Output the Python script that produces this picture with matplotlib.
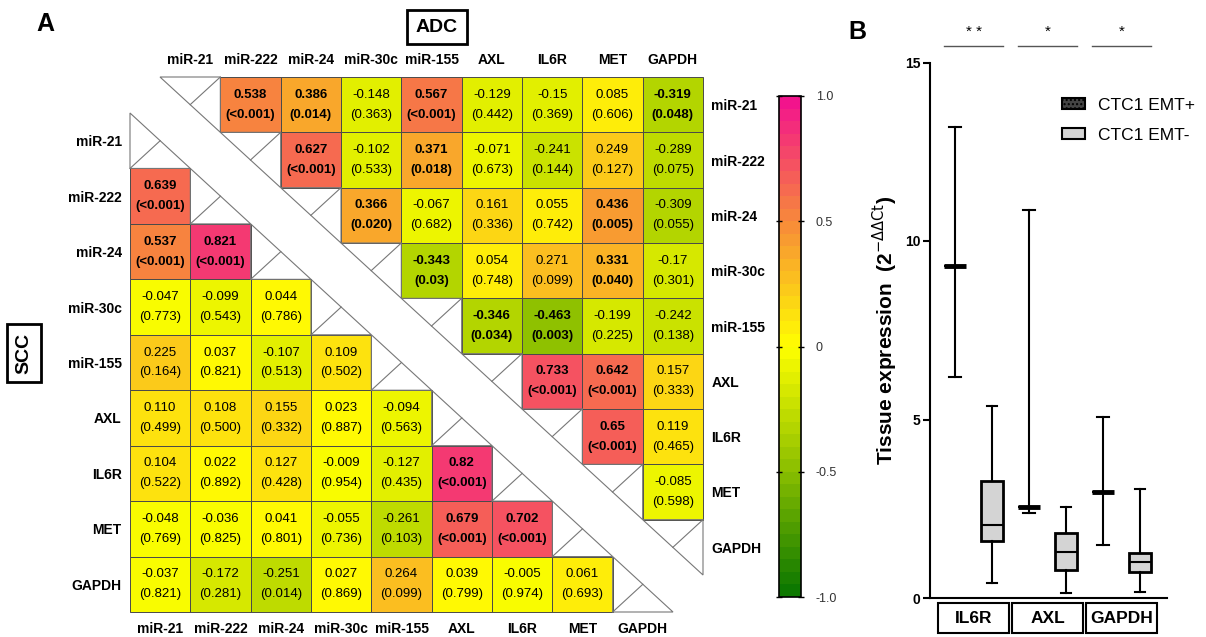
import numpy as np
import matplotlib
matplotlib.use('Agg')
import matplotlib.pyplot as plt
import matplotlib.transforms as mtransforms
from matplotlib import font_manager
from matplotlib.colors import LinearSegmentedColormap, Normalize
from matplotlib.cm import ScalarMappable
from matplotlib.patches import Polygon, Rectangle, Patch

plt.rcParams['font.family'] = ['Liberation Sans', 'DejaVu Sans']

genes = ['miR-21', 'miR-222', 'miR-24', 'miR-30c', 'miR-155', 'AXL', 'IL6R', 'MET', 'GAPDH']

# SCC: lower triangle, row i holds columns 0..i-1
scc_r = [
    [],
    ['0.639'],
    ['0.537', '0.821'],
    ['-0.047', '-0.099', '0.044'],
    ['0.225', '0.037', '-0.107', '0.109'],
    ['0.110', '0.108', '0.155', '0.023', '-0.094'],
    ['0.104', '0.022', '0.127', '-0.009', '-0.127', '0.82'],
    ['-0.048', '-0.036', '0.041', '-0.055', '-0.261', '0.679', '0.702'],
    ['-0.037', '-0.172', '-0.251', '0.027', '0.264', '0.039', '-0.005', '0.061'],
]
scc_p = [
    [],
    ['<0.001'],
    ['<0.001', '<0.001'],
    ['0.773', '0.543', '0.786'],
    ['0.164', '0.821', '0.513', '0.502'],
    ['0.499', '0.500', '0.332', '0.887', '0.563'],
    ['0.522', '0.892', '0.428', '0.954', '0.435', '<0.001'],
    ['0.769', '0.825', '0.801', '0.736', '0.103', '<0.001', '<0.001'],
    ['0.821', '0.281', '0.014', '0.869', '0.099', '0.799', '0.974', '0.693'],
]
scc_bold = [(1, 0), (2, 0), (2, 1), (6, 5), (7, 5), (7, 6)]

# ADC: upper triangle, row i holds columns i+1..8
adc_r = [
    ['0.538', '0.386', '-0.148', '0.567', '-0.129', '-0.15', '0.085', '-0.319'],
    ['0.627', '-0.102', '0.371', '-0.071', '-0.241', '0.249', '-0.289'],
    ['0.366', '-0.067', '0.161', '0.055', '0.436', '-0.309'],
    ['-0.343', '0.054', '0.271', '0.331', '-0.17'],
    ['-0.346', '-0.463', '-0.199', '-0.242'],
    ['0.733', '0.642', '0.157'],
    ['0.65', '0.119'],
    ['-0.085'],
    [],
]
adc_p = [
    ['<0.001', '0.014', '0.363', '<0.001', '0.442', '0.369', '0.606', '0.048'],
    ['<0.001', '0.533', '0.018', '0.673', '0.144', '0.127', '0.075'],
    ['0.020', '0.682', '0.336', '0.742', '0.005', '0.055'],
    ['0.03', '0.748', '0.099', '0.040', '0.301'],
    ['0.034', '0.003', '0.225', '0.138'],
    ['<0.001', '<0.001', '0.333'],
    ['<0.001', '0.465'],
    ['0.598'],
    [],
]
adc_bold = [(0, 1), (0, 2), (0, 4), (0, 8), (1, 2), (1, 4), (2, 3), (2, 7),
            (3, 4), (3, 7), (4, 5), (4, 6), (5, 6), (5, 7), (6, 7)]

cbar_ticks = [-1.0, -0.5, 0.0, 0.5, 1.0]
cbar_labels = ['-1.0', '-0.5', '0', '0.5', '1.0']

# panel B: tissue expression box summaries
groups = ['IL6R', 'AXL', 'GAPDH']
pos_low = [6.2, 2.39, 1.48]
pos_q1 = [9.3, 2.55, 2.96]
pos_med = [9.3, 2.55, 2.96]
pos_q3 = [9.3, 2.55, 2.96]
pos_high = [13.2, 10.86, 5.08]
neg_low = [0.41, 0.13, 0.18]
neg_q1 = [1.60, 0.78, 0.74]
neg_med = [2.04, 1.30, 1.02]
neg_q3 = [3.28, 1.83, 1.27]
neg_high = [5.38, 2.56, 3.05]
sig_labels = ['* *', '*', '*']

W, H = 1206, 637


def fig_box(x0, y0, x1, y1):
    return [x0 / W, 1 - y1 / H, (x1 - x0) / W, (y1 - y0) / H]


names = {f.name for f in font_manager.fontManager.ttflist}
if 'Liberation Sans Narrow' in names:
    cell_font, cell_size = 'Liberation Sans Narrow', 10.5
else:
    cell_font, cell_size = 'Liberation Sans', 9.5

cmap = LinearSegmentedColormap.from_list('corr', [
    (0.00, (0.05, 0.47, 0.00)),
    (0.25, (0.55, 0.75, 0.00)),
    (0.50, (1.00, 1.00, 0.00)),
    (0.75, (0.97, 0.55, 0.22)),
    (1.00, (0.95, 0.08, 0.55)),
], N=40)
norm = Normalize(-1, 1)


def draw_block(ax, r_rows, p_rows, bold, upper):
    n = len(genes)
    for i in range(n):
        for k, s in enumerate(r_rows[i]):
            j = i + 1 + k if upper else k
            v = float(s)
            ax.add_patch(Rectangle((j, i), 1, 1, facecolor=cmap(norm(v)),
                                   edgecolor='#4a4a4a', lw=0.7, clip_on=False))
            w = 'bold' if (i, j) in bold else 'normal'
            ax.text(j + 0.5, i + 0.32, s, ha='center', va='center',
                    family=cell_font, size=cell_size, weight=w)
            ax.text(j + 0.5, i + 0.68, '(%s)' % p_rows[i][k], ha='center', va='center',
                    family=cell_font, size=cell_size, weight=w)
    # diagonal cells: half triangles
    for i in range(n):
        if upper:
            tri = [(i, i), (i + 1, i), (i + 1, i + 1)]
            ax.plot([i + 1, i + 0.5], [i, i + 0.5], color='#777777', lw=0.8, clip_on=False)
        else:
            tri = [(i, i), (i, i + 1), (i + 1, i + 1)]
            ax.plot([i, i + 0.5], [i + 1, i + 0.5], color='#777777', lw=0.8, clip_on=False)
        ax.add_patch(Polygon(tri, closed=True, fill=False, edgecolor='#777777',
                             lw=0.8, clip_on=False))
    ax.set_xlim(0, n)
    ax.set_ylim(n, 0)
    ax.set_xticks(np.arange(n) + 0.5)
    ax.set_yticks(np.arange(n) + 0.5)
    ax.set_xticklabels(genes, fontsize=10, fontweight='bold')
    ax.set_yticklabels(genes, fontsize=10, fontweight='bold')
    for sp in ax.spines.values():
        sp.set_visible(False)
    ax.patch.set_visible(False)


fig = plt.figure(figsize=(W / 100, H / 100), dpi=100)

ax_scc = fig.add_axes(fig_box(130, 113, 673, 612))
draw_block(ax_scc, scc_r, scc_p, scc_bold, upper=False)
ax_scc.tick_params(length=0)
ax_scc.tick_params(axis='x', pad=7)
ax_scc.tick_params(axis='y', pad=6)

ax_adc = fig.add_axes(fig_box(160, 77, 703, 575))
draw_block(ax_adc, adc_r, adc_p, adc_bold, upper=True)
ax_adc.xaxis.tick_top()
ax_adc.yaxis.tick_right()
ax_adc.tick_params(length=0)
ax_adc.tick_params(axis='x', pad=7)
ax_adc.tick_params(axis='y', pad=6)

# colour scale
cax = fig.add_axes(fig_box(779, 96, 801, 597))
cb = fig.colorbar(ScalarMappable(norm=norm, cmap=cmap), cax=cax, ticks=cbar_ticks)
cb.ax.set_yticklabels(cbar_labels)
cb.outline.set_linewidth(1.2)
cax.tick_params(direction='inout', length=5, width=1, left=True, right=True,
                labelsize=9, labelcolor='#333333', pad=8)

fig.text(45 / W, 1 - 24 / H, 'A', fontsize=18, fontweight='bold', ha='center', va='center')
fig.text(437 / W, 1 - 27 / H, 'ADC', fontsize=14, fontweight='bold', ha='center', va='center',
         bbox=dict(boxstyle='square,pad=0.45', fc='white', ec='black', lw=2))
fig.text(24 / W, 1 - 353 / H, 'SCC', fontsize=14, fontweight='bold', ha='center', va='center',
         rotation=90, bbox=dict(boxstyle='square,pad=0.45', fc='white', ec='black', lw=2))

# panel B
axb = fig.add_axes(fig_box(930, 62.5, 1167, 598))
stats_pos = [dict(whislo=pos_low[k], q1=pos_q1[k], med=pos_med[k], q3=pos_q3[k],
                  whishi=pos_high[k]) for k in range(len(groups))]
stats_neg = [dict(whislo=neg_low[k], q1=neg_q1[k], med=neg_med[k], q3=neg_q3[k],
                  whishi=neg_high[k]) for k in range(len(groups))]
x_pos = [2 * k + 1 for k in range(len(groups))]
x_neg = [2 * k + 2 for k in range(len(groups))]

axb.bxp(stats_pos, positions=x_pos, widths=0.62, capwidths=0.34, patch_artist=True,
        showfliers=False,
        boxprops=dict(facecolor='#444444', edgecolor='black', lw=1.5, hatch='....'),
        medianprops=dict(color='black', lw=3.5),
        whiskerprops=dict(color='black', lw=1.5),
        capprops=dict(color='black', lw=1.5))
axb.bxp(stats_neg, positions=x_neg, widths=0.62, capwidths=0.27, patch_artist=True,
        showfliers=False,
        boxprops=dict(facecolor='#d4d4d4', edgecolor='black', lw=2),
        medianprops=dict(color='black', lw=1.5),
        whiskerprops=dict(color='black', lw=1.5),
        capprops=dict(color='black', lw=1.5))

axb.set_xlim(0.324, 6.73)
axb.set_ylim(0, 15)
axb.set_yticks([0, 5, 10, 15])
axb.set_xticks([])
axb.spines['top'].set_visible(False)
axb.spines['right'].set_visible(False)
axb.spines['left'].set_linewidth(1.5)
axb.spines['bottom'].set_linewidth(1.5)
axb.tick_params(axis='y', length=5, width=1.5, labelsize=10, pad=2)
for lab in axb.get_yticklabels():
    lab.set_fontweight('bold')
axb.set_ylabel(r'Tissue expression  (2$^{-\Delta\Delta\mathrm{Ct}}$)', fontsize=15,
               fontweight='bold')
axb.yaxis.set_label_coords(-0.125, 0.5)

trans = mtransforms.blended_transform_factory(axb.transData, axb.transAxes)
for k, g in enumerate(groups):
    cx = 2 * k + 1.5
    axb.add_patch(Rectangle((cx - 0.96, -0.0654), 1.92, 0.056, transform=trans,
                            fill=False, ec='black', lw=1.5, clip_on=False))
    axb.text(cx, -0.0375, g, transform=trans, ha='center', va='center',
             fontsize=12.5, fontweight='bold')
    axb.plot([cx - 0.8, cx + 0.8], [15.47, 15.47], color='#555555', lw=1, clip_on=False)
    axb.text(cx, 15.85, sig_labels[k], ha='center', va='center', fontsize=11)

handles = [Patch(facecolor='#444444', edgecolor='black', hatch='....', lw=1.5),
           Patch(facecolor='#d4d4d4', edgecolor='black', lw=1.5)]
axb.legend(handles, ['CTC1 EMT+', 'CTC1 EMT-'], loc='upper left',
           bbox_to_anchor=(0.557, 0.934), frameon=False, fontsize=12.5,
           handlelength=1.3, handleheight=0.6, handletextpad=0.75,
           labelspacing=0.85, borderpad=0, borderaxespad=0)

fig.text(857 / W, 1 - 32 / H, 'B', fontsize=18, fontweight='bold', ha='center', va='center')

plt.savefig('out.png', dpi=100)
